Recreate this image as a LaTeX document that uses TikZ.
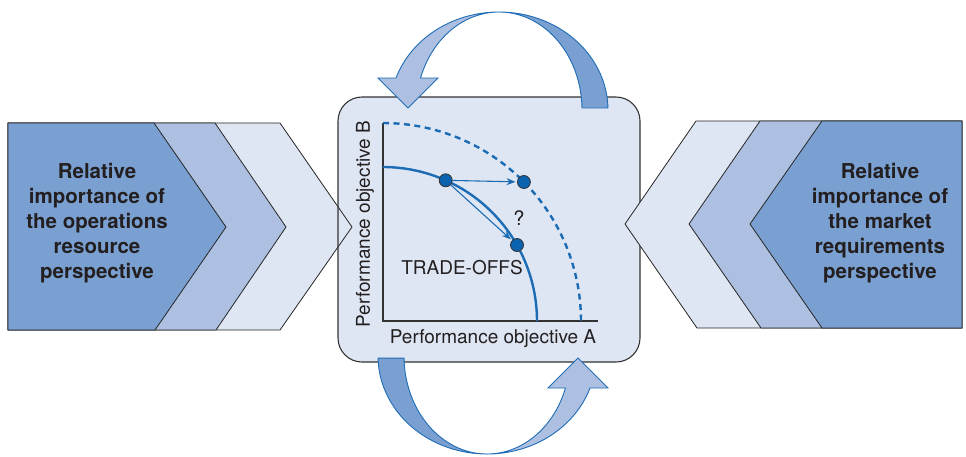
\documentclass[tikz,border=0pt]{standalone}
\usepackage{fontspec}
\setmainfont{TeX Gyre Heros}
\usetikzlibrary{arrows.meta}
\definecolor{chevdark}{HTML}{7AA0D2}
\definecolor{chevmed}{HTML}{ADC0E1}
\definecolor{chevlight}{HTML}{DFE6F3}
\definecolor{arrline}{HTML}{1F6DB5}
\definecolor{curveblue}{HTML}{1B6CB4}
\definecolor{dotblue}{HTML}{0B63B0}
\definecolor{txt}{HTML}{231F20}
\begin{document}
\begin{tikzpicture}[x=1pt,y=-1pt,
  chev/.style={draw=black!85,line width=0.8pt,line join=miter},
  chevtext/.style={align=center,text=txt,font=\fontsize{20.5}{25}\selectfont\bfseries,inner sep=0pt},
  lbl/.style={text=txt,font=\fontsize{19}{22}\selectfont,inner sep=0pt},
  dotnode/.style={circle,fill=dotblue,draw=black!80,line width=0.8pt,minimum size=13pt,inner sep=0pt},
  thinarrow/.style={draw=curveblue,line width=1.1pt,-{Stealth[length=9pt,width=7pt]},shorten >=1.5pt},
  curve/.style={draw=curveblue,line width=2.4pt},
  ribbonedge/.style={draw=arrline,line width=0.9pt,line join=miter}]
\useasboundingbox (0,0) rectangle (966,456);

% box fill
\fill[chevlight,rounded corners=24pt] (338,97) rectangle (640,362);

% left chevrons
\filldraw[chev,fill=chevlight] (8,123) -- (280,123) -- (352,227) -- (280,330) -- (8,330) -- cycle;
\filldraw[chev,fill=chevmed] (8,123) -- (215,123) -- (286,227) -- (216,330) -- (8,330) -- cycle;
\filldraw[chev,fill=chevdark] (8,123) -- (154,123) -- (226,227) -- (155,330) -- (8,330) -- cycle;

% box outline
\draw[black!80,line width=1.1pt,rounded corners=24pt] (338,97) rectangle (640,362);

% right chevrons
\filldraw[chev,fill=chevlight] (962,121) -- (696,121) -- (625,224) -- (697,328) -- (962,328) -- cycle;
\filldraw[chev,fill=chevmed] (962,121) -- (760,121) -- (689,224) -- (761,328) -- (962,328) -- cycle;
\filldraw[chev,fill=chevdark] (962,121) -- (822,121) -- (750,224) -- (822,328) -- (962,328) -- cycle;

\node[chevtext] (lefttext) at (97,223) {Relative\\importance of\\the operations\\resource\\perspective};
\node[chevtext] (righttext) at (880,223) {Relative\\importance of\\the market\\requirements\\perspective};

% curved ribbon arrows
\newcommand{\ribbonarrow}{%
  \filldraw[ribbonedge,fill=chevdark]
    plot[domain=90:1.2,samples=40,variable=\t] ({499+109*cos(\t)},{110-98*sin(\t)})
    -- plot[domain=1.2:90,samples=40,variable=\t] ({499+83*cos(\t)},{110-98*sin(\t)}) -- cycle;
  \filldraw[ribbonedge,fill=chevmed]
    plot[domain=90:160.94,samples=40,variable=\t] ({499+109*cos(\t)},{110-98*sin(\t)})
    -- (378,78) -- (408,108) -- (438,78)
    -- plot[domain=160.94:90,samples=40,variable=\t] ({499+83*cos(\t)},{110-98*sin(\t)}) -- cycle;
}
\ribbonarrow
\begin{scope}[rotate around={180:(493,233)}]
\ribbonarrow
\end{scope}

% axes
\draw[black!80,line width=1.1pt] (383,123) -- (383,321) -- (598,321);
% curves
\draw[curve] plot[domain=90:0,samples=60,variable=\t] ({383+154*cos(\t)},{321-154*sin(\t)});
\draw[curve,dash pattern=on 6pt off 4.5pt] plot[domain=90:0,samples=60,variable=\t] ({383+198*cos(\t)},{321-198*sin(\t)});

\node[dotnode] (p1) at (445.7,180.3) {};
\node[dotnode] (p2) at (523.9,182) {};
\node[dotnode] (p3) at (517,245) {};
\draw[thinarrow] (p1) -- (p2);
\draw[thinarrow] (p1) -- (p3);

\node[lbl,font=\fontsize{20}{22}\selectfont] (q) at (519,218) {?};
\node[lbl] (tradeoffs) at (462,268) {TRADE-OFFS};
\node[lbl] (axisA) at (493,339) {Performance objective A};
\node[lbl,rotate=90] (axisB) at (365,224) {Performance objective B};
\end{tikzpicture}
\end{document}
